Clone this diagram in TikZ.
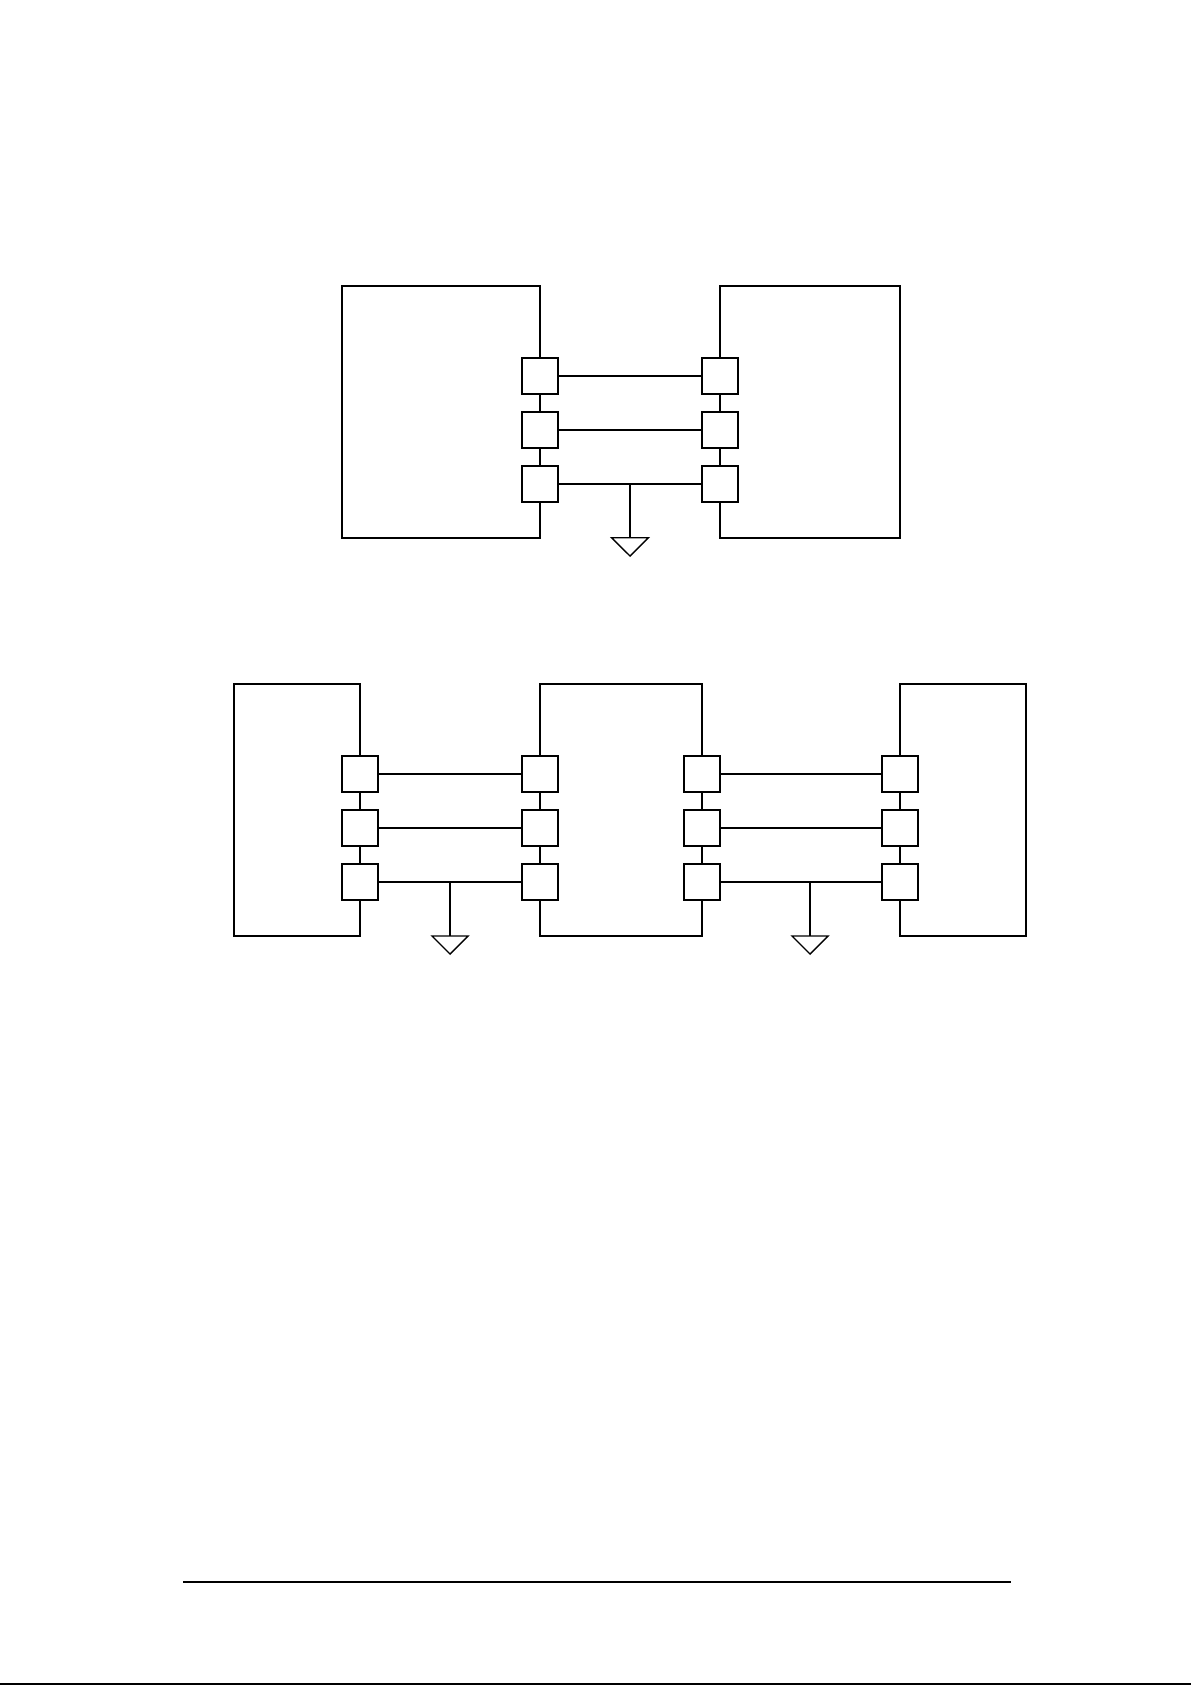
\documentclass[tikz,border=0pt]{standalone}
\tikzset{
  bigbox/.style={draw=black,fill=white,line width=2pt,inner sep=0pt,outer sep=0pt,rectangle},
  port/.style={draw=black,fill=white,line width=2pt,inner sep=0pt,outer sep=0pt,rectangle,minimum width=36pt,minimum height=36pt},
  wire/.style={draw=black,line width=2pt},
  thinwire/.style={draw=black,line width=1.3pt},
  gnd/.style={draw=black,line width=1.4pt,line join=miter},
  rule/.style={draw=black,line width=2.2pt}
}
\begin{document}
\begin{tikzpicture}[x=1pt,y=-1pt]
\useasboundingbox[fill=white] (0,0) rectangle (1191,1685);
% upper diagram
\node[bigbox,minimum width=198pt,minimum height=252pt] (A) at (441,411.7) {};
\node[bigbox,minimum width=180pt,minimum height=252pt] (B) at (810,411.7) {};
\foreach \n/\y in {1/376,2/430,3/484}{
  \node[port] (A\n) at (540,\y) {};
  \node[port] (B\n) at (720,\y) {};
  \draw[thinwire] (A\n) -- (B\n);
}
\coordinate (G1s) at (630,484);
\coordinate (G1t) at (630,537.7);
\coordinate (G1l) at (611.6,537.7);
\coordinate (G1r) at (648.4,537.7);
\coordinate (G1a) at (630,556);
\draw[wire] (G1s) -- (G1t);
\draw[gnd] (G1l) -- (G1r) -- (G1a) -- cycle;
% lower diagram
\node[bigbox,minimum width=126pt,minimum height=252pt] (C) at (297,810) {};
\node[bigbox,minimum width=162pt,minimum height=252pt] (D) at (621,810) {};
\node[bigbox,minimum width=126pt,minimum height=252pt] (E) at (963,810) {};
\foreach \n/\y in {1/774,2/828,3/882}{
  \node[port] (C\n) at (360,\y) {};
  \node[port] (DL\n) at (540,\y) {};
  \node[port] (DR\n) at (702,\y) {};
  \node[port] (E\n) at (900,\y) {};
  \draw[wire] (C\n) -- (DL\n);
  \draw[wire] (DR\n) -- (E\n);
}
\coordinate (G2s) at (450,882);
\coordinate (G2t) at (450,936);
\coordinate (G2l) at (432,936);
\coordinate (G2r) at (468,936);
\coordinate (G2a) at (450,954);
\draw[wire] (G2s) -- (G2t);
\draw[gnd] (G2l) -- (G2r) -- (G2a) -- cycle;
\coordinate (G3s) at (810,882);
\coordinate (G3t) at (810,936);
\coordinate (G3l) at (792,936);
\coordinate (G3r) at (828,936);
\coordinate (G3a) at (810,954);
\draw[wire] (G3s) -- (G3t);
\draw[gnd] (G3l) -- (G3r) -- (G3a) -- cycle;
% rules
\coordinate (R1) at (183,1582);
\coordinate (R2) at (1011,1582);
\draw[rule] (R1) -- (R2);
\coordinate (S1) at (0,1684.2);
\coordinate (S2) at (1191,1684.2);
\draw[rule] (S1) -- (S2);
\end{tikzpicture}
\end{document}
